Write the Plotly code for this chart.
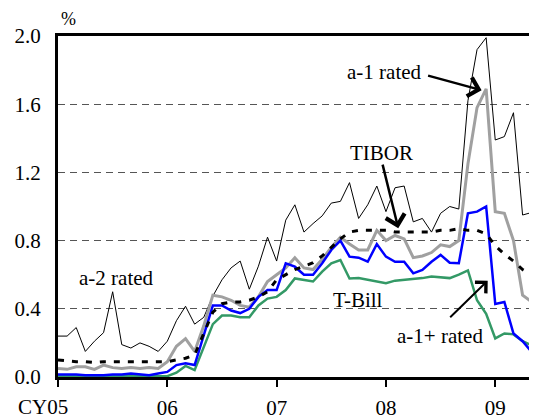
import plotly.graph_objects as go

# month index: 0 = Jan 2005
months = list(range(54))
tick_vals = [0, 12, 24, 36, 48]
tick_labels = ["CY05", "06", "07", "08", "09"]
y_ticks = [0.0, 0.4, 0.8, 1.2, 1.6, 2.0]

a2_rated = [0.24, 0.24, 0.29, 0.15, 0.21, 0.26, 0.50, 0.19, 0.17, 0.20, 0.18, 0.15,
            0.21, 0.33, 0.415, 0.31, 0.35, 0.475, 0.57, 0.64, 0.68, 0.515, 0.65, 0.82,
            0.68, 0.92, 1.01, 0.85, 0.90, 0.945, 1.02, 1.03, 1.14, 0.93, 1.01, 1.12,
            0.97, 1.11, 1.12, 0.91, 0.93, 0.85, 0.96, 1.00, 0.985, 1.62, 1.92, 1.99,
            1.39, 1.41, 1.55, 0.95, 0.965, 0.87]

a1_rated = [0.05, 0.045, 0.06, 0.06, 0.045, 0.07, 0.055, 0.05, 0.055, 0.05, 0.055, 0.05,
            0.09, 0.18, 0.225, 0.15, 0.30, 0.48, 0.47, 0.45, 0.42, 0.41, 0.47, 0.56,
            0.60, 0.64, 0.70, 0.64, 0.63, 0.69, 0.76, 0.82, 0.78, 0.745, 0.745, 0.86,
            0.80, 0.83, 0.81, 0.70, 0.71, 0.73, 0.775, 0.765, 0.80, 1.25, 1.58, 1.69,
            0.97, 0.96, 0.80, 0.48, 0.44, 0.32]

tibor = [0.10, 0.095, 0.09, 0.09, 0.085, 0.09, 0.09, 0.09, 0.09, 0.09, 0.09, 0.09,
         0.09, 0.10, 0.11, 0.13, 0.25, 0.38, 0.43, 0.44, 0.44, 0.45, 0.47, 0.50,
         0.57, 0.60, 0.63, 0.65, 0.67, 0.71, 0.76, 0.81, 0.85, 0.86, 0.86, 0.86,
         0.86, 0.85, 0.85, 0.85, 0.85, 0.85, 0.86, 0.86, 0.87, 0.86, 0.86, 0.84,
         0.77, 0.72, 0.68, 0.63, 0.60, 0.59]

a1plus_rated = [0.015, 0.015, 0.015, 0.01, 0.01, 0.01, 0.015, 0.015, 0.02, 0.015, 0.01, 0.02,
                0.03, 0.07, 0.08, 0.07, 0.25, 0.42, 0.42, 0.39, 0.375, 0.40, 0.47, 0.51,
                0.51, 0.667, 0.647, 0.60, 0.60, 0.667, 0.745, 0.80, 0.706, 0.70, 0.676, 0.78,
                0.706, 0.676, 0.676, 0.608, 0.628, 0.676, 0.716, 0.67, 0.667, 0.96, 0.97, 1.0,
                0.428, 0.44, 0.255, 0.21, 0.147, 0.147]

t_bill = [0.005, 0.005, 0.005, 0.005, 0.005, 0.005, 0.005, 0.005, 0.005, 0.005, 0.005, 0.005,
          0.005, 0.025, 0.065, 0.04, 0.18, 0.31, 0.36, 0.36, 0.35, 0.35, 0.42, 0.46,
          0.47, 0.51, 0.578, 0.57, 0.56, 0.618, 0.667, 0.686, 0.578, 0.58, 0.57, 0.56,
          0.55, 0.565, 0.57, 0.575, 0.58, 0.59, 0.585, 0.58, 0.60, 0.625, 0.45, 0.37,
          0.226, 0.255, 0.25, 0.21, 0.186, 0.17]

FONT = '"Liberation Serif", "Times New Roman", Times, serif'

fig = go.Figure()
fig.add_trace(go.Scatter(x=months, y=a2_rated, mode="lines", name="a-2 rated",
                         line=dict(color="black", width=1)))
fig.add_trace(go.Scatter(x=months, y=a1_rated, mode="lines", name="a-1 rated",
                         line=dict(color="#a0a0a0", width=3)))
fig.add_trace(go.Scatter(x=months, y=t_bill, mode="lines", name="T-Bill",
                         line=dict(color="#339966", width=2.5)))
fig.add_trace(go.Scatter(x=months, y=a1plus_rated, mode="lines", name="a-1+ rated",
                         line=dict(color="#0000ff", width=2.5)))
fig.add_trace(go.Scatter(x=months, y=tibor, mode="lines", name="TIBOR",
                         line=dict(color="black", width=3, dash="6px,8px")))

ann_font = dict(family=FONT, size=21, color="black")
annotations = [
    dict(text="a-1 rated", x=35.8, y=1.786, showarrow=False, font=ann_font),
    dict(text="", x=46.5, y=1.682, ax=-55, ay=-15, showarrow=True, arrowhead=4,
         arrowsize=1.5, arrowwidth=2.5, arrowcolor="black"),
    dict(text="TIBOR", x=35.5, y=1.316, showarrow=False, font=ann_font),
    dict(text="", x=37.35, y=0.873, ax=-16, ay=-65, showarrow=True, arrowhead=4,
         arrowsize=1.5, arrowwidth=2.5, arrowcolor="black"),
    dict(text="a-2 rated", x=6.4, y=0.58, showarrow=False, font=ann_font),
    dict(text="T-Bill", x=32.9, y=0.451, showarrow=False, font=ann_font),
    dict(text="a-1+ rated", x=41.9, y=0.239, showarrow=False, font=ann_font),
    dict(text="", x=47.17, y=0.565, ax=-39, ay=38, showarrow=True, arrowhead=4,
         arrowsize=1.5, arrowwidth=2, arrowcolor="black"),
    dict(text="%", xref="paper", yref="paper", x=0.0216, y=1.05, showarrow=False,
         xanchor="center", yanchor="middle",
         font=dict(family=FONT, size=18, color="black")),
    dict(text=tick_labels[0], xref="paper", yref="paper", x=-0.0318, y=-0.088,
         showarrow=False, xanchor="center", yanchor="middle",
         font=dict(family=FONT, size=21, color="black")),
]

# page body has an 8px margin, so margins are reduced by 8px to compensate
fig.update_layout(
    width=537, height=419,
    margin=dict(l=50, r=0, t=28, b=50),
    plot_bgcolor="white", paper_bgcolor="white",
    showlegend=False,
    font=dict(family=FONT, size=21, color="black"),
    annotations=annotations,
)
fig.update_xaxes(
    range=[0, 53.46], tickvals=tick_vals, ticktext=[""] + tick_labels[1:],
    showgrid=False, zeroline=False, automargin=False,
    showline=True, linecolor="black", linewidth=3, mirror=True,
    ticks="outside", ticklen=7, tickwidth=2, tickcolor="black",
    tickfont=dict(family=FONT, size=21), ticklabelstandoff=3,
)
fig.update_yaxes(
    range=[0, 2.0], tickvals=y_ticks, ticktext=[f"{v:.1f}" for v in y_ticks],
    showgrid=True, gridcolor="#555555", gridwidth=1, griddash="7px,5px",
    zeroline=False, showline=True, linecolor="black", linewidth=3, automargin=False,
    ticks="", tickfont=dict(family=FONT, size=21), ticklabelstandoff=10,
)

fig.write_html("out.html")
